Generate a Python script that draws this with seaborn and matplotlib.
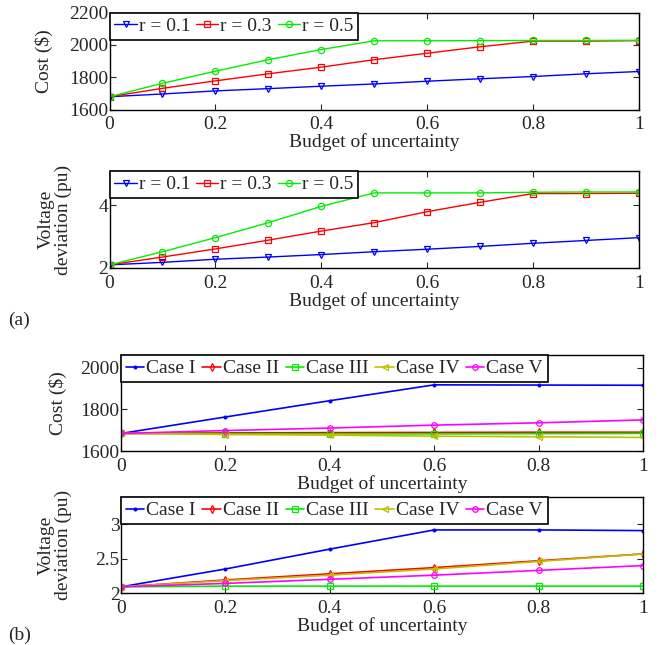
import numpy as np
import pandas as pd
import matplotlib
matplotlib.use("Agg")
import matplotlib.pyplot as plt
import seaborn as sns

# ---------------- data ----------------
budget_a = [0.0, 0.1, 0.2, 0.3, 0.4, 0.5, 0.6, 0.7, 0.8, 0.9, 1.0]
r_labels = ["r = 0.1", "r = 0.3", "r = 0.5"]
cost_r01 = [1679, 1696, 1715, 1729, 1744, 1758, 1775, 1790, 1804, 1821, 1835]
cost_r03 = [1679, 1731, 1777, 1821, 1862, 1908, 1948, 1988, 2023, 2023, 2026]
cost_r05 = [1679, 1762, 1837, 1908, 1971, 2025, 2025, 2026, 2027, 2027, 2028]
volt_r01 = [2.10, 2.18, 2.28, 2.35, 2.43, 2.52, 2.60, 2.69, 2.79, 2.88, 2.97]
volt_r03 = [2.10, 2.35, 2.61, 2.89, 3.18, 3.45, 3.80, 4.10, 4.38, 4.38, 4.39]
volt_r05 = [2.10, 2.52, 2.97, 3.45, 3.97, 4.40, 4.40, 4.40, 4.42, 4.43, 4.43]

budget_b = [0.0, 0.2, 0.4, 0.6, 0.8, 1.0]
case_labels = ["Case I", "Case II", "Case III", "Case IV", "Case V"]
cost_case1 = [1684, 1763, 1841, 1917, 1916, 1915]
cost_case2 = [1684, 1687, 1688, 1689, 1690, 1690]
cost_case3 = [1684, 1683, 1682, 1682, 1683, 1684]
cost_case4 = [1684, 1679, 1676, 1671, 1668, 1665]
cost_case5 = [1684, 1698, 1710, 1724, 1735, 1749]
volt_case1 = [2.09, 2.35, 2.64, 2.92, 2.92, 2.91]
volt_case2 = [2.09, 2.19, 2.28, 2.37, 2.47, 2.57]
volt_case3 = [2.09, 2.10, 2.10, 2.10, 2.10, 2.10]
volt_case4 = [2.09, 2.18, 2.26, 2.35, 2.46, 2.57]
volt_case5 = [2.09, 2.14, 2.20, 2.26, 2.33, 2.40]

# ---------------- style ----------------
sns.set_style("ticks")
plt.rcParams["font.family"] = ["Liberation Serif", "DejaVu Serif"]
FS = 14

r_colors = ["#0000ff", "#ff0000", "#00ee00"]
r_markers = ["v", "s", "o"]
case_colors = ["#0000ff", "#ff0000", "#00ee00", "#c0c000", "#ff00ff"]
case_markers = [".", "d", "s", "<", "o"]


def long_df(x, series, labels):
    rows = []
    for lab, ys in zip(labels, series):
        for xv, yv in zip(x, ys):
            rows.append({"x": xv, "y": yv, "series": lab})
    return pd.DataFrame(rows)


fig = plt.figure(figsize=(6.67, 6.45), dpi=100)
W, H = 667.0, 645.0


def make_ax(left, right, top, bottom):
    return fig.add_axes([left / W, 1 - bottom / H, (right - left) / W, (bottom - top) / H])


ax1 = make_ax(109.5, 639, 12.5, 109.5)
ax2 = make_ax(109.5, 639, 171, 268)
ax3 = make_ax(121, 643, 355, 451)
ax4 = make_ax(121, 643, 497, 593)


def draw(ax, x, series, labels, colors, markers, ms, lw, ncol, hl, cs):
    df = long_df(x, series, labels)
    for lab, c, m in zip(labels, colors, markers):
        sub = df[df["series"] == lab]
        sns.lineplot(data=sub, x="x", y="y", ax=ax, color=c, marker=m,
                     markersize=ms if m != "." else 4,
                     markerfacecolor="none" if m != "." else c,
                     markeredgecolor=c, markeredgewidth=0.9,
                     linewidth=lw, label=lab, legend=False)
    ax.set_xlim(0, 1)
    ax.set_xlabel("Budget of uncertainty", fontsize=FS, labelpad=0)
    ax.tick_params(direction="in", length=4, width=0.8, top=True, right=True,
                   labelsize=FS)
    ax.tick_params(axis="x", pad=5)
    ax.tick_params(axis="y", pad=1)
    for s in ax.spines.values():
        s.set_linewidth(1.0)
        s.set_color("black")
    leg = ax.legend(loc="upper left", ncol=ncol, fontsize=FS, frameon=True,
                    fancybox=False, borderaxespad=0, borderpad=0.25,
                    handlelength=hl, handletextpad=0.1, columnspacing=cs,
                    labelspacing=0.1)
    leg.get_frame().set_edgecolor("black")
    leg.get_frame().set_linewidth(1.2)
    leg.get_frame().set_alpha(1)


ticks_x = [0, 0.2, 0.4, 0.6, 0.8, 1]
ticks_x_lab = ["0", "0.2", "0.4", "0.6", "0.8", "1"]

draw(ax1, budget_a, [cost_r01, cost_r03, cost_r05], r_labels, r_colors, r_markers,
     4.5, 1.0, 3, 1.15, 0.3)
ax1.set_ylim(1600, 2200)
ax1.set_yticks([1600, 1800, 2000, 2200])
ax1.set_xticks(ticks_x)
ax1.set_xticklabels(ticks_x_lab)
ax1.set_ylabel("Cost ($)", fontsize=FS)
ax1.yaxis.set_label_coords(-0.107, 0.5)

draw(ax2, budget_a, [volt_r01, volt_r03, volt_r05], r_labels, r_colors, r_markers,
     4.5, 1.0, 3, 1.15, 0.3)
ax2.set_ylim(2, 5.1)
ax2.set_yticks([2, 4])
ax2.set_xticks(ticks_x)
ax2.set_xticklabels(ticks_x_lab)
ax2.set_ylabel("Voltage\ndeviation (pu)", fontsize=FS, linespacing=1.0)
ax2.yaxis.set_label_coords(-0.07, 0.5)

draw(ax3, budget_b, [cost_case1, cost_case2, cost_case3, cost_case4, cost_case5],
     case_labels, case_colors, case_markers, 4.0, 1.2, 5, 0.95, 0.34)
ax3.set_ylim(1600, 2060)
ax3.set_yticks([1600, 1800, 2000])
ax3.set_xticks(ticks_x)
ax3.set_xticklabels(ticks_x_lab)
ax3.set_ylabel("Cost ($)", fontsize=FS)
ax3.yaxis.set_label_coords(-0.104, 0.5)

draw(ax4, budget_b, [volt_case1, volt_case2, volt_case3, volt_case4, volt_case5],
     case_labels, case_colors, case_markers, 4.0, 1.2, 5, 0.95, 0.34)
ax4.set_ylim(2, 3.4)
ax4.set_yticks([2, 2.5, 3])
ax4.set_yticklabels(["2", "2.5", "3"])
ax4.set_xticks(ticks_x)
ax4.set_xticklabels(ticks_x_lab)
ax4.set_ylabel("Voltage\ndeviation (pu)", fontsize=FS, linespacing=1.0)
ax4.yaxis.set_label_coords(-0.094, 0.5)

fig.text(8 / W, 1 - 320 / H, "(a)", fontsize=FS, va="center", ha="left")
fig.text(8 / W, 1 - 644 / H, "(b)", fontsize=FS, va="bottom", ha="left")

fig.savefig("out.png", dpi=100)
